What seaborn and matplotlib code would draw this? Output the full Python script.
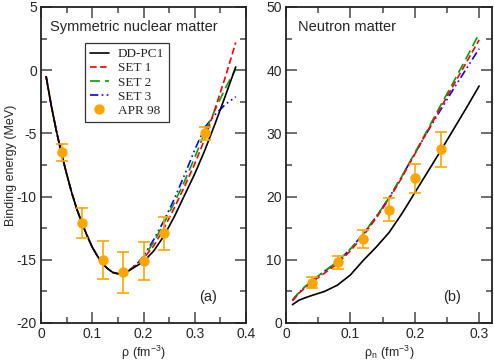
import matplotlib
matplotlib.use("Agg")
import matplotlib.pyplot as plt
from matplotlib.ticker import MultipleLocator
from matplotlib.lines import Line2D
import seaborn as sns
import pandas as pd

# --- symmetric nuclear matter (panel a) ---
rho_snm = [0.01, 0.02, 0.03, 0.04, 0.05, 0.06, 0.07, 0.08, 0.09, 0.10, 0.11, 0.12, 0.13,
           0.14, 0.15, 0.16, 0.17, 0.18, 0.19, 0.20, 0.22, 0.24, 0.26, 0.28, 0.30, 0.32,
           0.34, 0.36, 0.38]
low_snm = [-0.5, -2.8, -4.8, -6.6, -8.2, -9.7, -11.0, -12.1, -13.1, -14.0, -14.7, -15.3,
           -15.7, -16.0, -16.1, -16.05, -15.9]
ddpc1_snm = low_snm + [-15.65, -15.4, -15.15, -14.3, -13.1, -11.6, -9.9, -8.2, -6.3, -4.2, -2.0, 0.26]
set1_snm = low_snm + [-15.6, -15.3, -14.9, -13.9, -12.5, -10.9, -9.2, -7.4, -5.4, -3.0, -0.5, 2.2]
set2_snm = low_snm + [-15.55, -15.2, -14.8, -13.6, -12.1, -10.5, -8.8, -6.9, -4.9, -3.1, -1.4, 0.1]
set3_snm = low_snm + [-15.55, -15.2, -14.7, -13.4, -11.9, -10.2, -8.3, -6.3, -4.5, -3.5, -2.7, -2.1]

apr_rho_snm = [0.04, 0.08, 0.12, 0.16, 0.20, 0.24, 0.32]
apr_e_snm = [-6.5, -12.1, -15.0, -16.0, -15.1, -12.9, -5.0]
apr_err_snm = [0.65, 1.2, 1.5, 1.6, 1.5, 1.3, 0.5]

# --- neutron matter (panel b) ---
rho_nm = [0.01, 0.02, 0.03, 0.04, 0.06, 0.08, 0.10, 0.12, 0.14, 0.16, 0.18, 0.20, 0.22,
          0.24, 0.26, 0.28, 0.30]
ddpc1_nm = [2.9, 3.6, 4.0, 4.35, 5.0, 6.0, 7.6, 9.9, 12.0, 14.3, 17.3, 20.6, 23.9, 27.2,
            30.6, 34.0, 37.5]
set1_nm = [3.5, 4.7, 5.6, 6.5, 7.9, 9.4, 11.4, 13.8, 16.6, 19.6, 23.0, 26.7, 30.4, 34.0,
           37.6, 41.2, 44.8]
set2_nm = [3.6, 4.8, 5.8, 6.7, 8.2, 9.7, 11.7, 14.1, 16.8, 19.8, 23.2, 26.9, 30.6, 34.4,
           38.1, 41.9, 45.8]
set3_nm = [3.6, 4.8, 5.8, 6.7, 8.2, 9.7, 11.7, 14.1, 16.8, 19.8, 23.2, 26.8, 30.3, 33.7,
           37.0, 40.2, 43.4]

apr_rho_nm = [0.04, 0.08, 0.12, 0.16, 0.20, 0.24]
apr_e_nm = [6.4, 9.6, 13.3, 17.9, 22.9, 27.5]
apr_err_nm = [0.85, 1.0, 1.4, 1.8, 2.3, 2.75]

series_names = ["DD-PC1", "SET 1", "SET 2", "SET 3"]
colors = {"DD-PC1": "black", "SET 1": "#ff0000", "SET 2": "#00a000", "SET 3": "#0000ff"}
dashes = {"DD-PC1": "", "SET 1": (4, 2), "SET 2": (6, 3), "SET 3": (5, 2, 1, 2, 1, 2)}
apr_color = "#ffa500"

sns.set_style("white")
plt.rcParams["font.family"] = ["Liberation Sans", "DejaVu Sans"]
plt.rcParams["mathtext.fontset"] = "custom"
plt.rcParams["mathtext.rm"] = "Liberation Sans"
plt.rcParams["axes.unicode_minus"] = False

fig = plt.figure(figsize=(4.94, 3.63), dpi=100)
ax1 = fig.add_axes([41 / 494, 40 / 363, 205 / 494, 316 / 363])
ax2 = fig.add_axes([286 / 494, 40 / 363, 206 / 494, 316 / 363])


def long_table(rho, curves):
    rows = []
    for name, vals in zip(series_names, curves):
        for r, v in zip(rho, vals):
            rows.append({"rho": r, "E": v, "model": name})
    return pd.DataFrame(rows)


df_a = long_table(rho_snm, [ddpc1_snm, set1_snm, set2_snm, set3_snm])
df_b = long_table(rho_nm, [ddpc1_nm, set1_nm, set2_nm, set3_nm])

for ax, df, ar, ae, aerr in [(ax1, df_a, apr_rho_snm, apr_e_snm, apr_err_snm),
                             (ax2, df_b, apr_rho_nm, apr_e_nm, apr_err_nm)]:
    sns.lineplot(data=df, x="rho", y="E", hue="model", style="model",
                 palette=colors, dashes=dashes, hue_order=series_names[::-1],
                 style_order=series_names[::-1], linewidth=1.2, ax=ax, legend=False,
                 sort=False)
    ax.errorbar(ar, ae, yerr=aerr, fmt="o", color=apr_color, ms=6.5, capsize=4,
                elinewidth=1.2, capthick=1.2, zorder=5)

# legend du panneau (a)
handles = [Line2D([], [], color=colors[n], lw=1.2,
                  dashes=dashes[n] if dashes[n] else (None, None)) for n in series_names]
handles.append(Line2D([], [], color=apr_color, marker="o", ls="", ms=6.5))
leg = ax1.legend(handles, series_names + ["APR 98"], loc="upper left",
                 bbox_to_anchor=(0.215, 0.885), borderaxespad=0, frameon=True,
                 fancybox=False, edgecolor="black", handlelength=1.45, handletextpad=0.7,
                 labelspacing=0.15, borderpad=0.35,
                 prop={"family": "Liberation Serif", "size": 9.5})
leg.get_frame().set_linewidth(0.9)

ax1.set_xlim(0, 0.4)
ax1.set_ylim(-20, 5)
ax1.xaxis.set_major_locator(MultipleLocator(0.1))
ax1.xaxis.set_minor_locator(MultipleLocator(0.05))
ax1.yaxis.set_major_locator(MultipleLocator(5))
ax1.yaxis.set_minor_locator(MultipleLocator(2.5))
ax1.set_xlabel(r"$\mathregular{\rho\ (fm^{-3})}$", fontsize=9, labelpad=2)
ax1.set_ylabel("Binding energy (MeV)", fontsize=9)
ax1.yaxis.set_label_coords(-0.115, 0.5)
ax1.text(0.045, 0.925, "Symmetric nuclear matter", transform=ax1.transAxes, fontsize=10.5)
ax1.text(0.77, 0.07, "(a)", transform=ax1.transAxes, fontsize=10.5)

ax2.set_xlim(0, 0.32)
ax2.set_ylim(0, 50)
ax2.xaxis.set_major_locator(MultipleLocator(0.1))
ax2.xaxis.set_minor_locator(MultipleLocator(0.05))
ax2.yaxis.set_major_locator(MultipleLocator(10))
ax2.yaxis.set_minor_locator(MultipleLocator(5))
ax2.set_xlabel(r"$\mathregular{\rho_n\ (fm^{-3})}$", fontsize=9, labelpad=2)
ax2.set_ylabel("")
ax2.text(0.06, 0.925, "Neutron matter", transform=ax2.transAxes, fontsize=10.5)
ax2.text(0.765, 0.07, "(b)", transform=ax2.transAxes, fontsize=10.5)

for ax in (ax1, ax2):
    ax.xaxis.set_major_formatter(plt.FuncFormatter(lambda v, p: "0" if abs(v) < 1e-9 else f"{v:g}"))
    ax.tick_params(which="both", direction="in", top=True, right=True,
                   bottom=True, left=True, labelsize=10, color="#555555", width=1.2)
    ax.tick_params(which="major", length=8, pad=3)
    ax.tick_params(which="minor", length=4)
    for sp in ax.spines.values():
        sp.set_color("#222222")
        sp.set_linewidth(1.3)

fig.savefig("out.png", dpi=100)
